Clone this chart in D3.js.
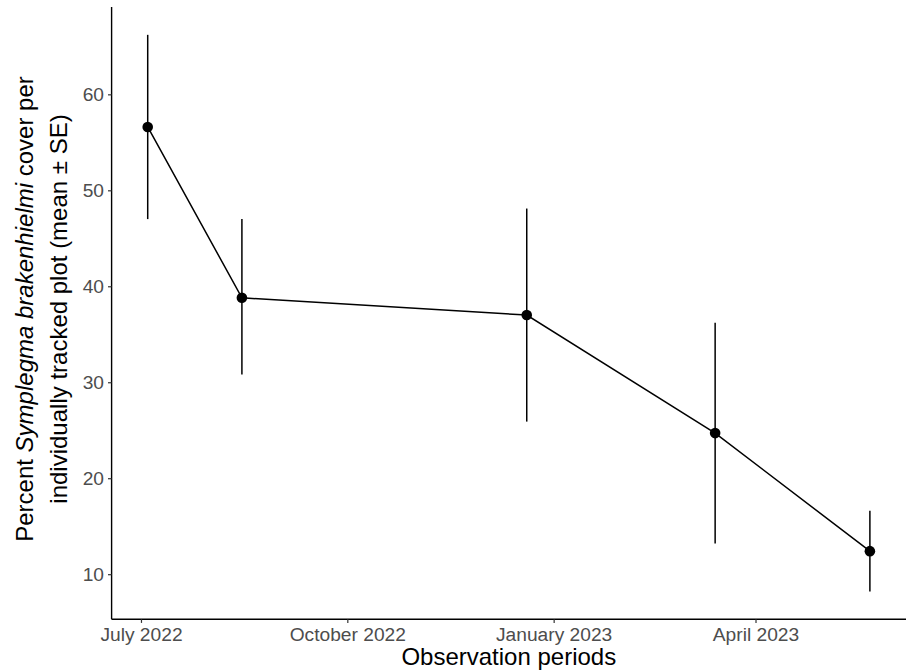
<!DOCTYPE html>
<html>
<head>
<meta charset="utf-8">
<script src="https://cdn.jsdelivr.net/npm/d3@7"></script>
<style>
  html, body { margin: 0; padding: 0; background: #fff; }
  svg { display: block; font-family: "Liberation Sans", Arial, sans-serif; }
</style>
</head>
<body>
<div id="chart"></div>
<script>
// ── Data ──────────────────────────────────────────────────────────────
const dates = ["2022-07-04", "2022-08-15", "2022-12-20", "2023-03-14", "2023-05-22"];
const means = [56.6, 38.8, 37.0, 24.7, 12.4];
const upper = [66.2, 47.0, 48.1, 36.2, 16.6];
const lower = [47.0, 30.8, 25.9, 13.2, 8.2];
const yTicks = [10, 20, 30, 40, 50, 60];
const xTicks = ["2022-07-01", "2022-10-01", "2023-01-01", "2023-04-01"];

const parse = d3.timeParse("%Y-%m-%d");
const rows = dates.map((d, i) => ({ date: parse(d), m: means[i], hi: upper[i], lo: lower[i] }));

// ── Layout ────────────────────────────────────────────────────────────
const W = 907, H = 672;
const M = { left: 111.6, right: 1, top: 7, bottom: 52.7 };

const svg = d3.select("#chart").append("svg").attr("width", W).attr("height", H);

// ggplot-style 5% expansion
function expand(ext, k) { const r = ext[1] - ext[0]; return [ext[0] - r * k, ext[1] + r * k]; }

const xExt = d3.extent(rows, r => r.date).map(d => +d);
const x = d3.scaleTime()
  .domain(expand(xExt, 0.05).map(v => new Date(v)))
  .range([M.left, W - M.right]);

const y = d3.scaleLinear()
  .domain(expand([d3.min(lower), d3.max(upper)], 0.05))
  .range([H - M.bottom, M.top]);

// ── Axes ──────────────────────────────────────────────────────────────
const fmt = d3.timeFormat("%B %Y");
const xAxis = svg.append("g")
  .attr("transform", `translate(0,${H - M.bottom})`)
  .call(d3.axisBottom(x).tickValues(xTicks.map(parse)).tickFormat(fmt).tickSize(3.6).tickPadding(4));

const yAxis = svg.append("g")
  .attr("transform", `translate(${M.left},0)`)
  .call(d3.axisLeft(y).tickValues(yTicks).tickSize(3.6).tickPadding(4));

[xAxis, yAxis].forEach(g => {
  g.select(".domain").attr("stroke", "#000").attr("stroke-width", 1.4);
  g.selectAll(".tick line").attr("stroke", "#333").attr("stroke-width", 1.2);
  g.selectAll(".tick text").attr("fill", "#4d4d4d").attr("font-size", 19.2)
    .attr("font-family", "'Liberation Sans', Arial, sans-serif");
});
xAxis.select(".domain").attr("d", `M${M.left},0H${W - M.right}`);
yAxis.select(".domain").attr("d", `M0,${M.top}V${H - M.bottom}`);

// ── Marks ─────────────────────────────────────────────────────────────
svg.append("g").selectAll("line").data(rows).join("line")
  .attr("x1", d => x(d.date)).attr("x2", d => x(d.date))
  .attr("y1", d => y(d.hi)).attr("y2", d => y(d.lo))
  .attr("stroke", "#000").attr("stroke-width", 1.5);

svg.append("path").datum(rows)
  .attr("d", d3.line().x(d => x(d.date)).y(d => y(d.m)))
  .attr("fill", "none").attr("stroke", "#000").attr("stroke-width", 1.5);

svg.append("g").selectAll("circle").data(rows).join("circle")
  .attr("cx", d => x(d.date)).attr("cy", d => y(d.m)).attr("r", 5.3)
  .attr("fill", "#000");

// ── Titles ────────────────────────────────────────────────────────────
svg.append("text")
  .attr("x", (M.left + W - M.right) / 2).attr("y", 665)
  .attr("text-anchor", "middle").attr("font-size", 24).attr("fill", "#000")
  .text("Observation periods");

const yMid = 309;
const yt = svg.append("text")
  .attr("transform", `translate(33,${yMid}) rotate(-90)`)
  .attr("text-anchor", "middle").attr("font-size", 24).attr("fill", "#000");
yt.append("tspan").text("Percent ");
yt.append("tspan").attr("font-style", "italic").text("Symplegma brakenhielmi");
yt.append("tspan").text(" cover per");

svg.append("text")
  .attr("transform", `translate(67,${yMid}) rotate(-90)`)
  .attr("text-anchor", "middle").attr("font-size", 24).attr("fill", "#000")
  .text("individually tracked plot (mean \u00b1 SE)");
</script>
</body>
</html>
